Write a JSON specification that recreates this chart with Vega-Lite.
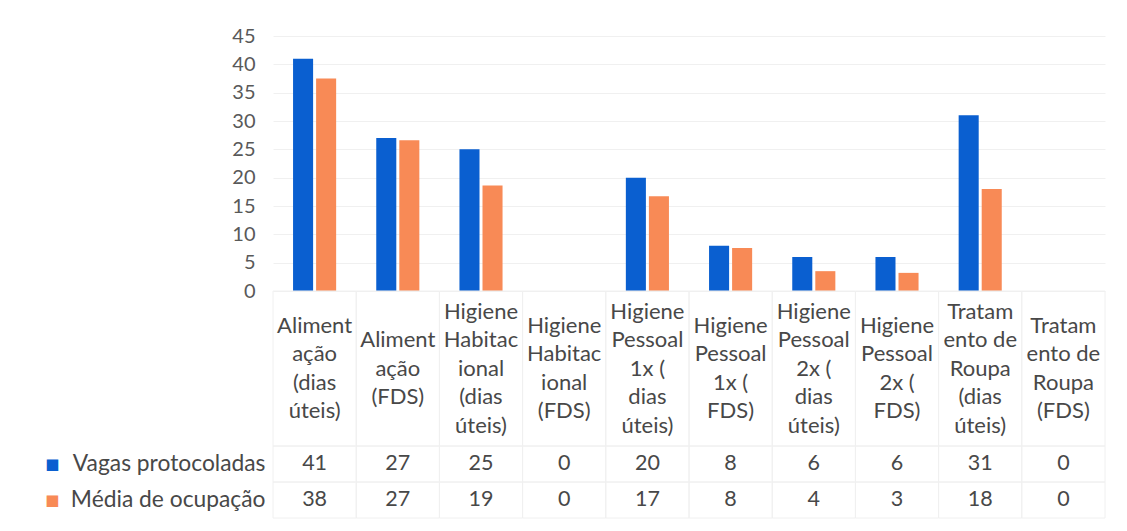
{
  "$schema": "https://vega.github.io/schema/vega-lite/v6.json",
  "background": "white",
  "padding": {"top": 26, "left": 44, "right": 5, "bottom": 5},
  "config": {
    "font": "Lato",
    "view": {"stroke": null},
    "concat": {"spacing": 0}
  },
  "bounds": "flush",
  "spacing": 0,
  "data": {
    "values": [
      {"cat": "Aliment\nação\n(dias\núteis)", "serie": "Vagas protocoladas", "value": 41},
      {"cat": "Aliment\nação\n(dias\núteis)", "serie": "Média de ocupação", "value": 37.5},
      {"cat": "Aliment\nação\n(FDS)", "serie": "Vagas protocoladas", "value": 27},
      {"cat": "Aliment\nação\n(FDS)", "serie": "Média de ocupação", "value": 26.6},
      {"cat": "Higiene\nHabitac\nional\n(dias\núteis)", "serie": "Vagas protocoladas", "value": 25},
      {"cat": "Higiene\nHabitac\nional\n(dias\núteis)", "serie": "Média de ocupação", "value": 18.6},
      {"cat": "Higiene\nHabitac\nional\n(FDS)", "serie": "Vagas protocoladas", "value": 0},
      {"cat": "Higiene\nHabitac\nional\n(FDS)", "serie": "Média de ocupação", "value": 0},
      {"cat": "Higiene\nPessoal\n1x (\ndias\núteis)", "serie": "Vagas protocoladas", "value": 20},
      {"cat": "Higiene\nPessoal\n1x (\ndias\núteis)", "serie": "Média de ocupação", "value": 16.7},
      {"cat": "Higiene\nPessoal\n1x (\nFDS)", "serie": "Vagas protocoladas", "value": 8},
      {"cat": "Higiene\nPessoal\n1x (\nFDS)", "serie": "Média de ocupação", "value": 7.6},
      {"cat": "Higiene\nPessoal\n2x (\ndias\núteis)", "serie": "Vagas protocoladas", "value": 6},
      {"cat": "Higiene\nPessoal\n2x (\ndias\núteis)", "serie": "Média de ocupação", "value": 3.5},
      {"cat": "Higiene\nPessoal\n2x (\nFDS)", "serie": "Vagas protocoladas", "value": 6},
      {"cat": "Higiene\nPessoal\n2x (\nFDS)", "serie": "Média de ocupação", "value": 3.2},
      {"cat": "Tratam\nento de\nRoupa\n(dias\núteis)", "serie": "Vagas protocoladas", "value": 31},
      {"cat": "Tratam\nento de\nRoupa\n(dias\núteis)", "serie": "Média de ocupação", "value": 18},
      {"cat": "Tratam\nento de\nRoupa\n(FDS)", "serie": "Vagas protocoladas", "value": 0},
      {"cat": "Tratam\nento de\nRoupa\n(FDS)", "serie": "Média de ocupação", "value": 0}
    ]
  },
  "vconcat": [
    {
      "width": 832,
      "height": 255,
      "mark": {"type": "bar"},
      "encoding": {
        "x": {"field": "cat", "type": "nominal", "sort": null, "axis": null,
              "scale": {"paddingInner": 0, "paddingOuter": 0}},
        "xOffset": {"field": "serie", "type": "nominal", "sort": ["Vagas protocoladas", "Média de ocupação"],
                    "scale": {"paddingInner": 0.13, "paddingOuter": 0.87}},
        "y": {"field": "value", "type": "quantitative",
              "scale": {"domain": [0, 45], "nice": false},
              "axis": {"title": null, "values": [0, 5, 10, 15, 20, 25, 30, 35, 40, 45],
                       "domain": false, "ticks": false, "labelPadding": 18,
                       "labelFontSize": 20, "labelColor": "#595959",
                       "gridColor": "#f0f0f0", "gridWidth": 1}},
        "color": {"field": "serie", "type": "nominal", "legend": null,
                  "scale": {"domain": ["Vagas protocoladas", "Média de ocupação"],
                            "range": ["#0a5fd0", "#f88a56"]}}
      }
    },
    {
      "width": 832,
      "height": 155,
      "transform": [{"filter": "datum.serie === 'Vagas protocoladas'"}],
      "layer": [
        {
          "mark": {"type": "rect", "fill": null, "stroke": "#f0f0f0", "strokeWidth": 1},
          "encoding": {
            "x": {"field": "cat", "type": "nominal", "sort": null, "axis": null},
            "y": {"field": "serie", "type": "nominal", "axis": null}
          }
        },
        {
          "mark": {"type": "text", "lineBreak": "\n", "fontSize": 22, "lineHeight": 28.5,
                   "color": "#484848", "baseline": "middle", "align": "center",
                   "dy": {"expr": "-(length(split(datum.cat, '\\n')) - 1) * 28.5 / 2"}},
          "encoding": {
            "x": {"field": "cat", "type": "nominal", "sort": null, "axis": null},
            "y": {"field": "serie", "type": "nominal", "axis": null},
            "text": {"field": "cat"}
          }
        }
      ]
    },
    {
      "width": 832,
      "height": 72,
      "layer": [
        {
          "mark": {"type": "rect", "fill": null, "stroke": "#f0f0f0", "strokeWidth": 1},
          "encoding": {
            "x": {"field": "cat", "type": "nominal", "sort": null, "axis": null},
            "y": {"field": "serie", "type": "nominal", "sort": ["Vagas protocoladas", "Média de ocupação"],
                  "axis": {"title": null, "orient": "left", "domain": false, "ticks": false, "grid": false,
                           "labelExpr": "'■'", "labelFont": "DejaVu Sans", "labelFontSize": 15,
                           "labelPadding": 214,
                           "labelColor": {"condition": {"test": "datum.value === 'Vagas protocoladas'", "value": "#0a5fd0"}, "value": "#f88a56"}}}
          }
        },
        {
          "mark": {"type": "text", "fontSize": 21.5, "color": "#484848", "baseline": "middle", "align": "center"},
          "encoding": {
            "x": {"field": "cat", "type": "nominal", "sort": null, "axis": null},
            "y": {"field": "serie", "type": "nominal", "sort": ["Vagas protocoladas", "Média de ocupação"],
                  "axis": {"title": null, "orient": "left", "domain": false, "ticks": false, "grid": false,
                           "labelPadding": 8, "labelFontSize": 22.8, "labelColor": "#484848", "labelLimit": 300}},
            "text": {"field": "value", "type": "quantitative", "format": ".0f"}
          }
        }
      ],
      "resolve": {"axis": {"y": "independent"}}
    }
  ]
}
